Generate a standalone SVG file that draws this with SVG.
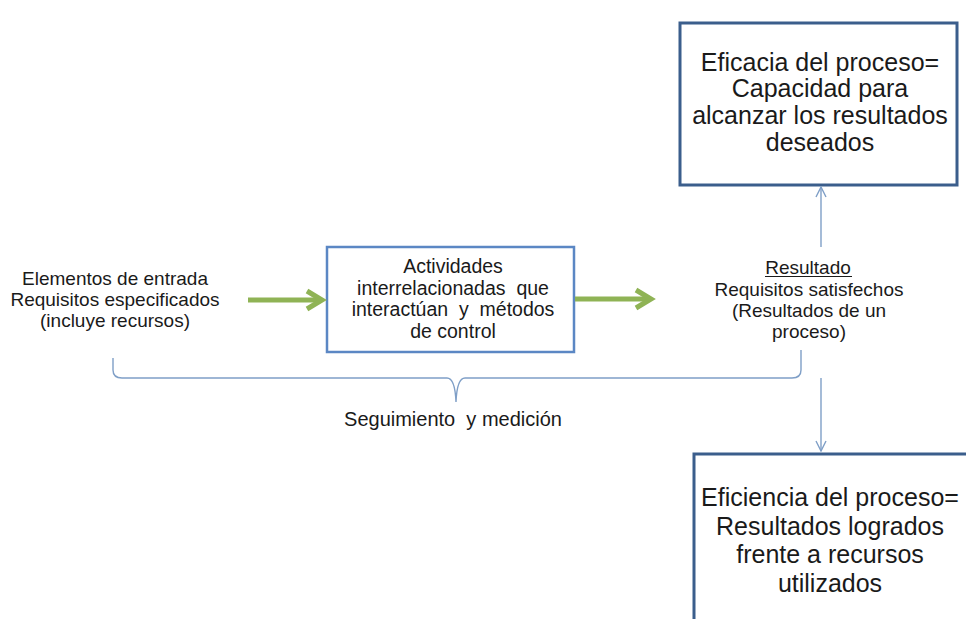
<svg xmlns="http://www.w3.org/2000/svg" width="966" height="619" viewBox="0 0 966 619">
  <style>
    text { font-family: "Liberation Sans", Arial, sans-serif; fill: #1a1a1a; text-anchor: middle; }
    .lbl { font-size: 19px; }
    .mid { font-size: 19.5px; }
    .big { font-size: 25px; }
    .box-dark { fill: #ffffff; stroke: #3b5e8c; stroke-width: 3; }
    .box-light { fill: #ffffff; stroke: #5b87c4; stroke-width: 2.5; }
    .thin { fill: none; stroke: #7f9fc7; stroke-width: 1.4; }
    .green { fill: none; stroke: #8fb355; stroke-width: 5; stroke-linejoin: miter; }
  </style>
  <defs>
    <marker id="open-head" viewBox="0 0 12 12" refX="11" refY="6" markerWidth="12" markerHeight="12" markerUnits="userSpaceOnUse" orient="auto">
      <path d="M1,1 L11,6 L1,11" fill="none" stroke="#7f9fc7" stroke-width="1.4"/>
    </marker>
  </defs>

  <rect width="966" height="619" fill="#ffffff"/>

  <!-- input label -->
  <g id="entrada">
    <text class="lbl" x="115" y="285">Elementos de entrada</text>
    <text class="lbl" x="115" y="306">Requisitos especificados</text>
    <text class="lbl" x="115" y="327">(incluye recursos)</text>
  </g>

  <!-- process activities box -->
  <g id="actividades">
    <rect class="box-light" x="327" y="247" width="247" height="105"/>
    <text class="mid" x="453" y="273">Actividades</text>
    <text class="mid" x="453" y="294.5" xml:space="preserve">interrelacionadas  que</text>
    <text class="mid" x="453" y="316" xml:space="preserve">interactúan  y  métodos</text>
    <text class="mid" x="453" y="337.5">de control</text>
  </g>

  <!-- output label -->
  <g id="resultado">
    <text class="lbl" x="808" y="274">Resultado</text>
    <line x1="765" y1="276.5" x2="852" y2="276.5" stroke="#1a1a1a" stroke-width="1.2"/>
    <text class="lbl" x="809" y="296">Requisitos satisfechos</text>
    <text class="lbl" x="809" y="317">(Resultados de un</text>
    <text class="lbl" x="809" y="338">proceso)</text>
  </g>

  <!-- effectiveness box -->
  <g id="eficacia">
    <rect class="box-dark" x="680" y="23" width="277" height="162"/>
    <text class="big" x="820" y="70.5">Eficacia del proceso=</text>
    <text class="big" x="820" y="97">Capacidad para</text>
    <text class="big" x="820" y="124">alcanzar los resultados</text>
    <text class="big" x="820" y="150.5">deseados</text>
  </g>

  <!-- efficiency box -->
  <g id="eficiencia">
    <rect class="box-dark" x="694" y="454" width="290" height="200"/>
    <text class="big" x="830" y="506">Eficiencia del proceso=</text>
    <text class="big" x="830" y="534.5">Resultados logrados</text>
    <text class="big" x="830" y="563">frente a recursos</text>
    <text class="big" x="830" y="591.5">utilizados</text>
  </g>

  <!-- monitoring label -->
  <g id="seguimiento">
    <text x="453" y="426" style="font-size:20px" xml:space="preserve">Seguimiento  y medición</text>
  </g>

  <!-- connectors -->
  <g id="connectors">
    <line class="green" x1="248" y1="300" x2="321" y2="300"/>
    <path class="green" d="M307,291 L322,300 L307,309"/>
    <line class="green" x1="575" y1="299" x2="650" y2="299"/>
    <path class="green" d="M636,290 L651,299 L636,308"/>

    <line class="thin" x1="821" y1="247" x2="821" y2="187" marker-end="url(#open-head)"/>
    <line class="thin" x1="821" y1="378" x2="821" y2="451" marker-end="url(#open-head)"/>

    <path class="thin" d="M113,358 L113,370 Q113,378 122,378 L447,378 Q455,378 456,402 Q457,378 465,378 L792,378 Q801,378 801,370 L801,350"/>
  </g>
</svg>
